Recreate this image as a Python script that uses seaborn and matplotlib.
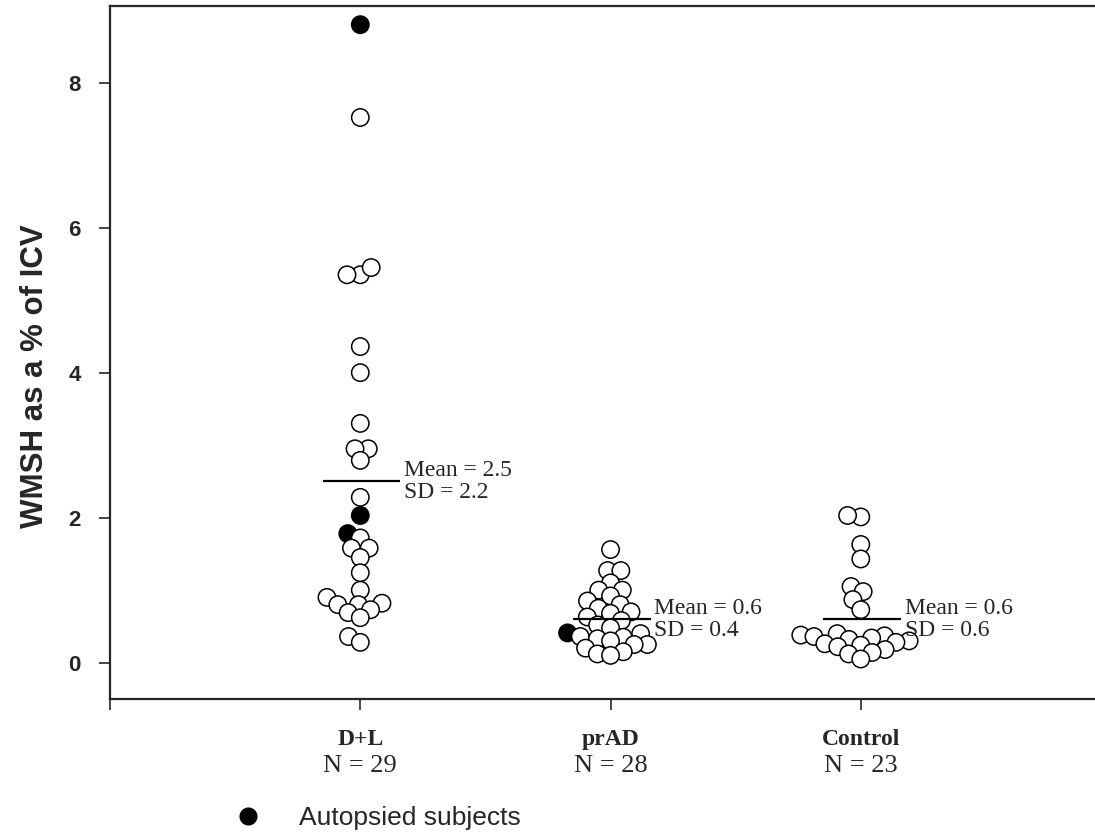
import numpy as np
import pandas as pd
import matplotlib
matplotlib.use("Agg")
import matplotlib.pyplot as plt
from matplotlib.collections import PathCollection
from matplotlib.lines import Line2D
import seaborn as sns

# values (WMSH as % of ICV)
groups = ["D+L", "prAD", "Control"]
n_labels = ["N = 29", "N = 28", "N = 23"]

dl_values = [8.8, 7.52, 5.35, 5.45, 5.35, 4.36, 4.0, 3.3, 2.95, 2.95, 2.79,
             2.28, 2.03, 1.78, 1.72, 1.58, 1.58, 1.45, 1.24, 1.0, 0.9, 0.82,
             0.8, 0.8, 0.73, 0.69, 0.62, 0.36, 0.28]
dl_autopsy = [8.8, 2.03, 1.78]

prad_values = [1.56, 1.27, 1.27, 1.1, 1.0, 1.0, 0.92, 0.85, 0.8, 0.75, 0.7,
               0.68, 0.63, 0.58, 0.52, 0.48, 0.41, 0.4, 0.36, 0.35, 0.33, 0.3,
               0.25, 0.25, 0.2, 0.15, 0.12, 0.1]
prad_autopsy = [0.41]

ctrl_values = [2.01, 2.03, 1.63, 1.43, 1.05, 0.98, 0.87, 0.73, 0.4, 0.38,
               0.37, 0.36, 0.34, 0.32, 0.3, 0.28, 0.26, 0.24, 0.22, 0.18,
               0.14, 0.12, 0.05]
ctrl_autopsy = []

means = [2.5, 0.6, 0.6]
sds = [2.2, 0.4, 0.6]

rows = []
for g, vals, aut in [("D+L", dl_values, dl_autopsy),
                     ("prAD", prad_values, prad_autopsy),
                     ("Control", ctrl_values, ctrl_autopsy)]:
    for v in vals:
        rows.append({"group": g, "value": v, "autopsied": "yes" if v in aut else "no"})
df = pd.DataFrame(rows)

sns.set_style("ticks")
plt.rcParams["font.family"] = ["Liberation Sans", "DejaVu Sans"]

fig = plt.figure(figsize=(10.95, 8.33), dpi=100)
ax = fig.add_axes([0.1005, 0.161, 0.905, 0.832])

# swarm is laid out with a smaller marker so the circles overlap like the original
sns.swarmplot(data=df, x="group", y="value", hue="autopsied", order=groups,
              palette={"no": "white", "yes": "black"}, edgecolor="black",
              linewidth=1.1, size=8, legend=False, ax=ax)

ax.set_xlim(-1, 2.96)
ax.set_ylim(-0.5, 9.06)
fig.canvas.draw()
for coll in ax.collections:
    if isinstance(coll, PathCollection):
        if "draw" in vars(coll):
            del coll.draw
        coll.set_sizes([12.5 ** 2])

# mean lines and stats text
for i, (m, s) in enumerate(zip(means, sds)):
    ax.hlines(m, i - 0.15, i + 0.16, color="black", lw=1.6, zorder=5)
    ax.text(i + 0.175, m, f"Mean = {m}\nSD = {s}", ha="left", va="center",
            family="Liberation Serif", fontsize=17, linespacing=1.05)

ax.set_yticks([0, 2, 4, 6, 8])
ax.set_yticklabels(["0", "2", "4", "6", "8"], fontsize=16, fontweight="bold")
ax.set_xticks([-1, 0, 1, 2])
ax.set_xticklabels([""] + groups, family="Liberation Serif", fontsize=17,
                   fontweight="bold")
ax.tick_params(axis="x", length=8, width=1.2, pad=14)
ax.tick_params(axis="y", length=8, width=1.2, pad=13)

for i, lab in enumerate(n_labels):
    ax.text(i, -0.097, lab, transform=ax.get_xaxis_transform(), ha="center",
            va="center", family="Liberation Serif", fontsize=19)

ax.set_xlabel("")
ax.set_ylabel("WMSH as a % of ICV", fontsize=22.5, fontweight="bold")
ax.yaxis.set_label_coords(-0.061, 0.465)

for side in ["left", "bottom", "top"]:
    ax.spines[side].set_linewidth(1.6)
ax.spines["right"].set_visible(False)

handle = Line2D([], [], marker="o", color="black", linestyle="", markersize=12)
fig.legend(handles=[handle], labels=["Autopsied subjects"], loc="center left",
           bbox_to_anchor=(0.1805, 0.018), frameon=False, fontsize=19,
           handletextpad=0.95)

fig.savefig("out.png", dpi=100)
